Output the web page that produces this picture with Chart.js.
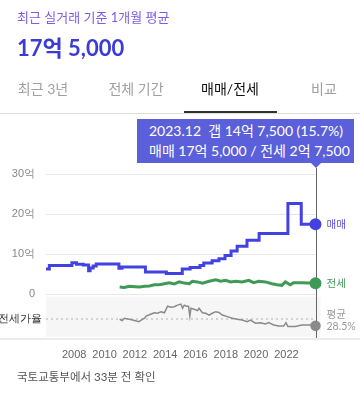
<!DOCTYPE html>
<html lang="ko">
<head>
<meta charset="utf-8">
<script src="https://cdn.jsdelivr.net/npm/chart.js@4.4.1/dist/chart.umd.min.js"></script>
<style>
	body { margin: 0; width: 360px; height: 395px; overflow: hidden; background: #fff; position: relative;
		font-family: Lato, "Noto Sans CJK KR", sans-serif; }
	#trendChart { position: absolute; left: 0; top: 0; }
	.txt { position: absolute; white-space: pre; }
	.sub { left: 17px; top: 8px; line-height: 18px; font-size: 13px; color: #7b5ce6; }
	.price { left: 17px; top: 34px; line-height: 28px; font-size: 22px; font-weight: 700; color: #3b3bd8; }
	.tab { top: 79px; width: 94px; text-align: center; line-height: 20px; font-size: 14px; color: #a0a0a0; }
	.tab.on { color: #111; }
	.line { position: absolute; left: 0; width: 360px; }
	.tip { position: absolute; left: 137px; top: 119px; width: 217px; height: 44px; background: #5b5fd9; color: #fff;
		font-size: 14px; box-sizing: border-box; padding: 2px 0 0 12px; }
	.tip div { line-height: 20px; white-space: pre; }
	.caret { position: absolute; width: 0; height: 0; border-left: 5px solid transparent; border-right: 5px solid transparent;
		border-top: 5px solid #5b5fd9; top: 44px; }
	.foot { left: 17px; top: 368px; line-height: 18px; font-size: 11.5px; color: #555; }
</style>
</head>
<body>
<canvas id="trendChart" width="360" height="395"></canvas>
<div class="txt sub">최근 실거래 기준 1개월 평균</div>
<div class="txt price">17억 5,000</div>
<div class="txt tab" style="left:-4px">최근 3년</div>
<div class="txt tab" style="left:89px">전체 기간</div>
<div class="txt tab on" style="left:183px">매매/전세</div>
<div class="txt tab" style="left:277px">비교</div>
<div class="line" style="top:113px;height:1px;background:#dcdcdc"></div>
<div class="line" style="top:111px;left:184px;width:93px;height:2px;background:#333"></div>
<div class="line" style="top:338px;height:2px;background:#ececec"></div>
<div class="tip" id="tip"><div>2023.12  갭 14억 7,500 (15.7%)</div><div>매매 17억 5,000 / 전세 2억 7,500</div><span class="caret" id="caret"></span></div>
<div class="txt foot">국토교통부에서 33분 전 확인</div>

<script>
// x: decimal year, values in 억 (price) and % (ratio)
var yearTicks = [2008, 2010, 2012, 2014, 2016, 2018, 2020, 2022];
var priceTicks = [0, 10, 20, 30];

var saleDates = [2006.14, 2006.36, 2007.85, 2008.15, 2008.6, 2008.95, 2009.05, 2009.25, 2009.45, 2010.95, 2011.15, 2012.7, 2014.08,
	2015.13, 2015.65, 2016.3, 2016.55, 2017.1, 2017.55, 2017.95, 2018.35, 2018.75, 2019.4, 2020.2, 2022.1, 2022.98, 2023.92];
var saleValues = [6.3, 7.2, 7.9, 7.5, 7.3, 5.9, 6.6, 7.1, 7.6, 6.5, 6.8, 5.6, 5.2,
	6.3, 6.7, 7.2, 7.8, 8.4, 8.9, 9.7, 10.8, 12.0, 13.5, 15.2, 22.7, 17.5, 17.5];

var jeonseDates = [2011.0, 2011.3, 2011.65, 2012.0, 2012.31, 2012.65, 2012.96, 2013.29, 2013.62, 2013.95, 2014.28, 2014.6, 2014.93,
	2015.26, 2015.59, 2015.8, 2016.13, 2016.46, 2016.9, 2017.34, 2017.67, 2017.99, 2018.32, 2018.65, 2019.08, 2019.52,
	2019.84, 2020.18, 2020.62, 2021.05, 2021.38, 2021.7, 2021.93, 2022.26, 2022.47, 2023.02, 2023.92];
var jeonseValues = [1.8, 1.7, 2.0, 1.9, 1.8, 2.0, 2.1, 2.4, 2.4, 2.65, 2.9, 2.6, 3.1,
	2.8, 2.65, 3.25, 3.1, 2.8, 3.25, 3.6, 3.25, 3.5, 3.1, 3.25, 3.1, 3.5,
	2.9, 3.25, 3.1, 2.65, 2.4, 2.25, 3.1, 2.4, 2.9, 2.9, 2.75];

var ratioDates = [2011.0, 2011.17, 2011.32, 2011.65, 2011.98, 2012.26, 2012.42, 2012.64, 2012.75, 2013.08, 2013.29, 2013.51, 2013.73,
	2013.95, 2014.16, 2014.39, 2014.6, 2014.82, 2015.04, 2015.15, 2015.26, 2015.41, 2015.54, 2015.63, 2015.7, 2015.91, 2016.13,
	2016.24, 2016.46, 2016.68, 2016.9, 2017.11, 2017.34, 2017.55, 2017.77, 2018.1, 2018.43, 2018.75, 2019.08, 2019.41, 2019.63,
	2019.96, 2020.29, 2020.62, 2020.83, 2021.16, 2021.49, 2021.82, 2021.97, 2022.1, 2022.58, 2023.02, 2023.57, 2023.92];
var ratioValues = [28, 25.5, 30, 28, 25.5, 23.5, 26.5, 30, 34, 38, 40.5, 39.5, 42.5,
	40.5, 53, 51, 52, 55, 57, 49, 55, 53, 53, 34, 49, 47, 44.5,
	49, 40.5, 39.5, 36, 39.5, 42.5, 41, 36, 33, 30, 28, 26.5, 23.5, 26.5,
	20.5, 21.5, 19, 21.5, 17, 15, 15, 21.5, 14, 14, 17, 17, 15.7];
var ratioAverage = 28.5;

var toPoints = function(dates, values) {
	return dates.map(function(d, i) { return { x: d, y: values[i] }; });
};
var lastDot = function(n) {
	return function(ctx) { return ctx.dataIndex === n - 1 ? 4.5 : 0; };
};

var panelPlugin = {
	id: 'panelPlugin',
	beforeDatasetsDraw: function(chart) {
		var ctx = chart.ctx, area = chart.chartArea, r = chart.scales.y2;
		var lastX = chart.scales.x.getPixelForValue(saleDates[saleDates.length - 1]);
		ctx.save();
		// ratio panel background + average line
		ctx.fillStyle = '#f6f6f6';
		ctx.fillRect(area.left, r.top + 2.4, area.right - area.left + 5, r.bottom - r.top - 2.4);
		var avgY = r.getPixelForValue(ratioAverage);
		ctx.strokeStyle = '#b0b0b0';
		ctx.lineWidth = 1;
		ctx.setLineDash([2, 3]);
		ctx.beginPath();
		ctx.moveTo(area.left, avgY);
		ctx.lineTo(lastX, avgY);
		ctx.stroke();
		// crosshair at the latest month
		ctx.setLineDash([]);
		ctx.strokeStyle = '#666';
		ctx.beginPath();
		ctx.moveTo(Math.round(lastX) + 0.5, 168);
		ctx.lineTo(Math.round(lastX) + 0.5, 340);
		ctx.stroke();
		ctx.restore();
	},
	afterDraw: function(chart) {
		var ctx = chart.ctx, y = chart.scales.y, r = chart.scales.y2;
		var lx = chart.scales.x.getPixelForValue(saleDates[saleDates.length - 1]) + 11;
		ctx.save();
		ctx.font = '10.5px Lato, "Noto Sans CJK KR"';
		ctx.textBaseline = 'middle';
		ctx.fillStyle = '#5a50e0';
		ctx.fillText('매매', lx, y.getPixelForValue(saleValues[saleValues.length - 1]));
		ctx.fillStyle = '#459a5a';
		ctx.fillText('전세', lx, y.getPixelForValue(jeonseValues[jeonseValues.length - 1]));
		var avgY = r.getPixelForValue(ratioAverage);
		ctx.fillStyle = '#999';
		ctx.fillText('평균', lx, avgY - 4);
		ctx.fillText(ratioAverage + '%', lx, avgY + 8);
		ctx.restore();
	}
};

var ctx = document.getElementById('trendChart');
var trendChart = new Chart(ctx, {
	type: 'line',
	data: {
		datasets: [{
			label: '매매',
			data: toPoints(saleDates, saleValues),
			yAxisID: 'y',
			stepped: true,
			borderColor: '#4242e2',
			backgroundColor: '#4242e2',
			borderWidth: 3,
			pointRadius: lastDot(saleDates.length),
			clip: false
		}, {
			label: '전세',
			data: toPoints(jeonseDates, jeonseValues),
			yAxisID: 'y',
			borderColor: '#3f9a56',
			backgroundColor: '#3f9a56',
			borderWidth: 3,
			pointRadius: lastDot(jeonseDates.length),
			clip: false
		}, {
			label: '전세가율',
			data: toPoints(ratioDates, ratioValues),
			yAxisID: 'y2',
			borderColor: '#8a8a8a',
			backgroundColor: '#8a8a8a',
			borderWidth: 1.5,
			pointRadius: lastDot(ratioDates.length),
			clip: false
		}]
	},
	options: {
		responsive: false,
		animation: false,
		events: [],
		layout: { padding: { top: 174.3, right: 44.5, bottom: 28.3, left: 0 } },
		plugins: { legend: { display: false }, tooltip: { enabled: false } },
		scales: {
			x: {
				type: 'linear',
				min: 2006.14,
				max: 2023.92,
				afterBuildTicks: function(s) { s.ticks = yearTicks.map(function(v) { return { value: v }; }); },
				afterFit: function(s) { s.height = 30; },
				grid: { display: false },
				border: { display: false },
				ticks: { color: '#666', font: { size: 11 }, padding: 4, maxRotation: 0, callback: function(v) { return String(v); } }
			},
			y2: {
				axis: 'y',
				position: 'left',
				stack: 'v',
				stackWeight: 42.4,
				min: -5.3,
				max: 75.7,
				afterBuildTicks: function(s) { s.ticks = [{ value: ratioAverage }]; },
				afterFit: function(s) { s.width = 46; },
				grid: { display: false, drawTicks: false },
				border: { display: false },
				ticks: { color: '#333', font: { size: 11 }, padding: 4, callback: function() { return '전세가율'; } }
			},
			y: {
				position: 'left',
				stack: 'v',
				stackWeight: 120,
				min: 0,
				max: 30,
				afterBuildTicks: function(s) { s.ticks = priceTicks.map(function(v) { return { value: v }; }); },
				afterFit: function(s) { s.width = 46; },
				grid: { color: '#e6e6e6', drawTicks: false },
				border: { display: false },
				ticks: { color: '#888', font: { size: 11 }, padding: 11, callback: function(v) { return v === 0 ? '0' : v + '억'; } }
			}
		}
	},
	plugins: [panelPlugin]
});

var caretX = trendChart.scales.x.getPixelForValue(saleDates[saleDates.length - 1]);
document.getElementById('caret').style.left = (caretX - 137 - 5) + 'px';
</script>
</body>
</html>
